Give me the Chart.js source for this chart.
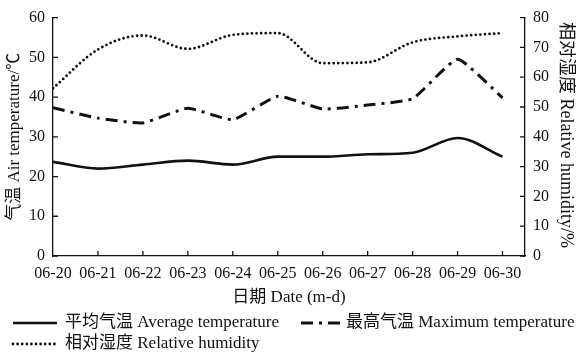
<!DOCTYPE html>
<html>
<head>
<meta charset="utf-8">
<script src="https://cdn.jsdelivr.net/npm/chart.js@4/dist/chart.umd.min.js"></script>
<style>
  html, body { margin: 0; padding: 0; background: #fff; }
  #wrap { width: 576px; height: 352px; }
</style>
</head>
<body>
<div id="wrap"><canvas id="chart" width="576" height="352"></canvas></div>
<script>
// values
const dates = ['06-20', '06-21', '06-22', '06-23', '06-24', '06-25', '06-26', '06-27', '06-28', '06-29', '06-30'];
const avgTemp = [23.7, 22.0, 23.0, 24.0, 23.0, 25.0, 25.0, 25.6, 26.0, 29.7, 25.0];
const maxTemp = [37.3, 34.7, 33.5, 37.2, 34.3, 40.2, 37.0, 38.0, 39.6, 49.5, 39.8];
const humidity = [56.3, 69.3, 74.0, 69.5, 74.2, 74.8, 64.7, 65.0, 71.7, 73.7, 74.8];
const seriesNames = ['平均气温 Average temperature', '最高气温 Maximum temperature', '相对湿度 Relative humidity'];
const tempTicks = [0, 10, 20, 30, 40, 50, 60];
const rhTicks = [0, 10, 20, 30, 40, 50, 60, 70, 80];

const FONT = "'Liberation Serif', 'Noto Sans CJK SC', serif";
const INK = '#111';

const toPoints = (vals) => vals.map((v, i) => ({ x: i, y: v }));

// axis titles, inward tick marks and the legend
const decor = {
  id: 'decor',
  afterDraw(chart) {
    const ctx = chart.ctx;
    const { x, y, y1 } = chart.scales;
    const area = chart.chartArea;
    ctx.save();
    ctx.strokeStyle = INK;
    ctx.lineWidth = 1.3;
    ctx.beginPath();
    dates.forEach((_, i) => {
      if (i === 0) return;
      const px = x.getPixelForValue(i);
      ctx.moveTo(px, area.bottom);
      ctx.lineTo(px, area.bottom - 5);
    });
    tempTicks.forEach((v) => {
      const py = y.getPixelForValue(v);
      ctx.moveTo(area.left, py);
      ctx.lineTo(area.left + 5, py);
    });
    rhTicks.forEach((v) => {
      const py = y1.getPixelForValue(v);
      ctx.moveTo(area.right, py);
      ctx.lineTo(area.right - 5, py);
    });
    ctx.stroke();

    ctx.fillStyle = INK;
    ctx.font = '17px ' + FONT;
    ctx.textAlign = 'center';
    ctx.textBaseline = 'middle';
    ctx.fillText('日期 Date (m-d)', (area.left + area.right) / 2, 298);

    ctx.save();
    ctx.translate(15, (area.top + area.bottom) / 2);
    ctx.rotate(-Math.PI / 2);
    ctx.fillText('气温 Air temperature/℃', 0, 0);
    ctx.restore();

    ctx.save();
    ctx.font = '18px ' + FONT;
    ctx.translate(566, 135);
    ctx.rotate(Math.PI / 2);
    ctx.fillText('相对湿度 Relative humidity/%', 0, 0);
    ctx.restore();

    // legend
    const items = [
      { ds: 0, x0: 13, x1: 57, tx: 65, ty: 323 },
      { ds: 1, x0: 301, x1: 341, tx: 346, ty: 323 },
      { ds: 2, x0: 13, x1: 57, tx: 65, ty: 344 },
    ];
    ctx.textAlign = 'left';
    items.forEach((it) => {
      const ds = chart.data.datasets[it.ds];
      ctx.save();
      ctx.strokeStyle = ds.borderColor;
      ctx.lineWidth = ds.borderWidth;
      ctx.lineCap = ds.borderCapStyle || 'butt';
      ctx.setLineDash(ds.borderDash || []);
      ctx.beginPath();
      ctx.moveTo(it.x0, it.ty);
      ctx.lineTo(it.x1, it.ty);
      ctx.stroke();
      ctx.restore();
      ctx.fillText(ds.label, it.tx, it.ty);
    });
    ctx.restore();
  },
};

new Chart(document.getElementById('chart'), {
  type: 'line',
  data: {
    datasets: [
      {
        label: seriesNames[0],
        data: toPoints(avgTemp),
        borderColor: INK,
        borderWidth: 2.6,
        cubicInterpolationMode: 'monotone',
        pointRadius: 0,
        yAxisID: 'y',
      },
      {
        label: seriesNames[1],
        data: toPoints(maxTemp),
        borderColor: INK,
        borderWidth: 3,
        borderDash: [12, 6, 3, 6],
        tension: 0.15,
        pointRadius: 0,
        yAxisID: 'y',
      },
      {
        label: seriesNames[2],
        data: toPoints(humidity),
        borderColor: INK,
        borderWidth: 2.8,
        borderDash: [0, 4.6],
        borderCapStyle: 'round',
        cubicInterpolationMode: 'monotone',
        pointRadius: 0,
        yAxisID: 'y1',
      },
    ],
  },
  options: {
    responsive: false,
    animation: false,
    events: [],
    layout: { padding: { top: 16, left: 0, right: 0, bottom: 0 } },
    plugins: { legend: { display: false }, tooltip: { enabled: false } },
    scales: {
      x: {
        type: 'linear',
        min: 0,
        max: 10.5,
        afterBuildTicks: (s) => { s.ticks = dates.map((_, i) => ({ value: i })); },
        afterFit: (s) => { s.height = 96; },
        grid: { display: true, drawOnChartArea: false, drawTicks: false },
        border: { display: true, color: INK, width: 1.3 },
        ticks: {
          autoSkip: false,
          maxRotation: 0,
          padding: 8,
          color: INK,
          font: { family: FONT, size: 16 },
          callback: (v) => dates[v],
        },
      },
      y: {
        position: 'left',
        min: 0,
        max: 60,
        afterBuildTicks: (s) => { s.ticks = tempTicks.map((v) => ({ value: v })); },
        afterFit: (s) => { s.width = 53; },
        grid: { display: true, drawOnChartArea: false, drawTicks: false },
        border: { display: true, color: INK, width: 1.3 },
        ticks: { padding: 8, color: INK, font: { family: FONT, size: 16 } },
      },
      y1: {
        position: 'right',
        min: 0,
        max: 80,
        afterBuildTicks: (s) => { s.ticks = rhTicks.map((v) => ({ value: v })); },
        afterFit: (s) => { s.width = 51; },
        grid: { display: true, drawOnChartArea: false, drawTicks: false },
        border: { display: true, color: INK, width: 1.3 },
        ticks: { padding: 8, color: INK, font: { family: FONT, size: 16 } },
      },
    },
  },
  plugins: [decor],
});
</script>
</body>
</html>
